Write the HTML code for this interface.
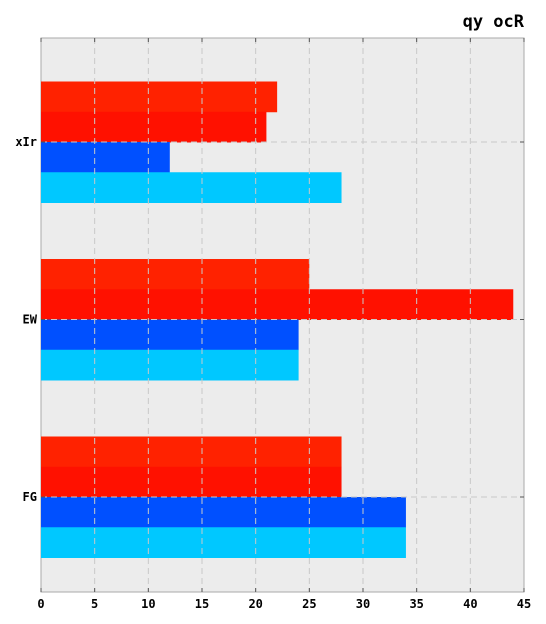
<!DOCTYPE html>
<html><head><meta charset="utf-8"><style>
html,body{margin:0;padding:0;background:#fff;width:546px;height:624px;overflow:hidden}
text{font-family:"DejaVu Sans Mono","Liberation Mono",monospace;font-weight:bold}
</style></head><body>
<svg id="chart" width="546" height="624">
<text x="524" y="27" text-anchor="end" font-size="17">qy ocR</text>
<rect x="41" y="38" width="483" height="554" fill="#ececec" stroke="#aaa" stroke-width="1"/>
<g id="bars"></g><g id="grid"></g><g id="axes"></g>
</svg>
<script>
const categories=["xIr","EW","FG"];
const series1=[22,25,28];
const series2=[21,44,28];
const series3=[12,24,34];
const series4=[28,24,34];
const xTicks=[0,5,10,15,20,25,30,35,40,45];
const colors=["#ff2200","#ff1100","#0050ff","#00c8ff"];
const L=41,R=524,T=38,B=592;
const ns="http://www.w3.org/2000/svg";
const x=v=>L+(v-0)/(45-0)*(R-L);
const catY=i=>142+i*177.5;
const bh=30.25;
function mk(tag,attrs,parent){const e=document.createElementNS(ns,tag);for(const k in attrs)e.setAttribute(k,attrs[k]);document.getElementById(parent).appendChild(e);return e;}
const all=[series1,series2,series3,series4];
categories.forEach((c,i)=>{
  all.forEach((s,j)=>{
    const r=mk("rect",{x:x(0),y:catY(i)-2*bh+j*bh,width:x(s[i])-x(0),height:bh+0.5,fill:colors[j]},"bars");
    
    
  });
  const g=mk("line",{x1:L,x2:R,y1:catY(i),y2:catY(i),stroke:"#c8c8c8","stroke-dasharray":"6,4"},"grid");
  
  
  const t=mk("text",{x:37,y:catY(i)+4,"text-anchor":"end","font-size":"12"},"axes");
  t.textContent=c;
  
  
  mk("line",{x1:L,x2:L+4,y1:catY(i),y2:catY(i),stroke:"#555"},"axes");
  mk("line",{x1:R-4,x2:R,y1:catY(i),y2:catY(i),stroke:"#555"},"axes");
});
xTicks.forEach(v=>{
  if(v>0&&v<45){
    const g=mk("line",{x1:x(v),x2:x(v),y1:T,y2:B,stroke:"#c8c8c8","stroke-dasharray":"6,4"},"grid");
    
    
  }
  mk("line",{x1:x(v),x2:x(v),y1:B-4,y2:B,stroke:"#555"},"axes");
  mk("line",{x1:x(v),x2:x(v),y1:T,y2:T+4,stroke:"#555"},"axes");
  const t=mk("text",{x:x(v),y:608,"text-anchor":"middle","font-size":"12"},"axes");
  t.textContent=v;
  
  
});
</script>
</body></html>
